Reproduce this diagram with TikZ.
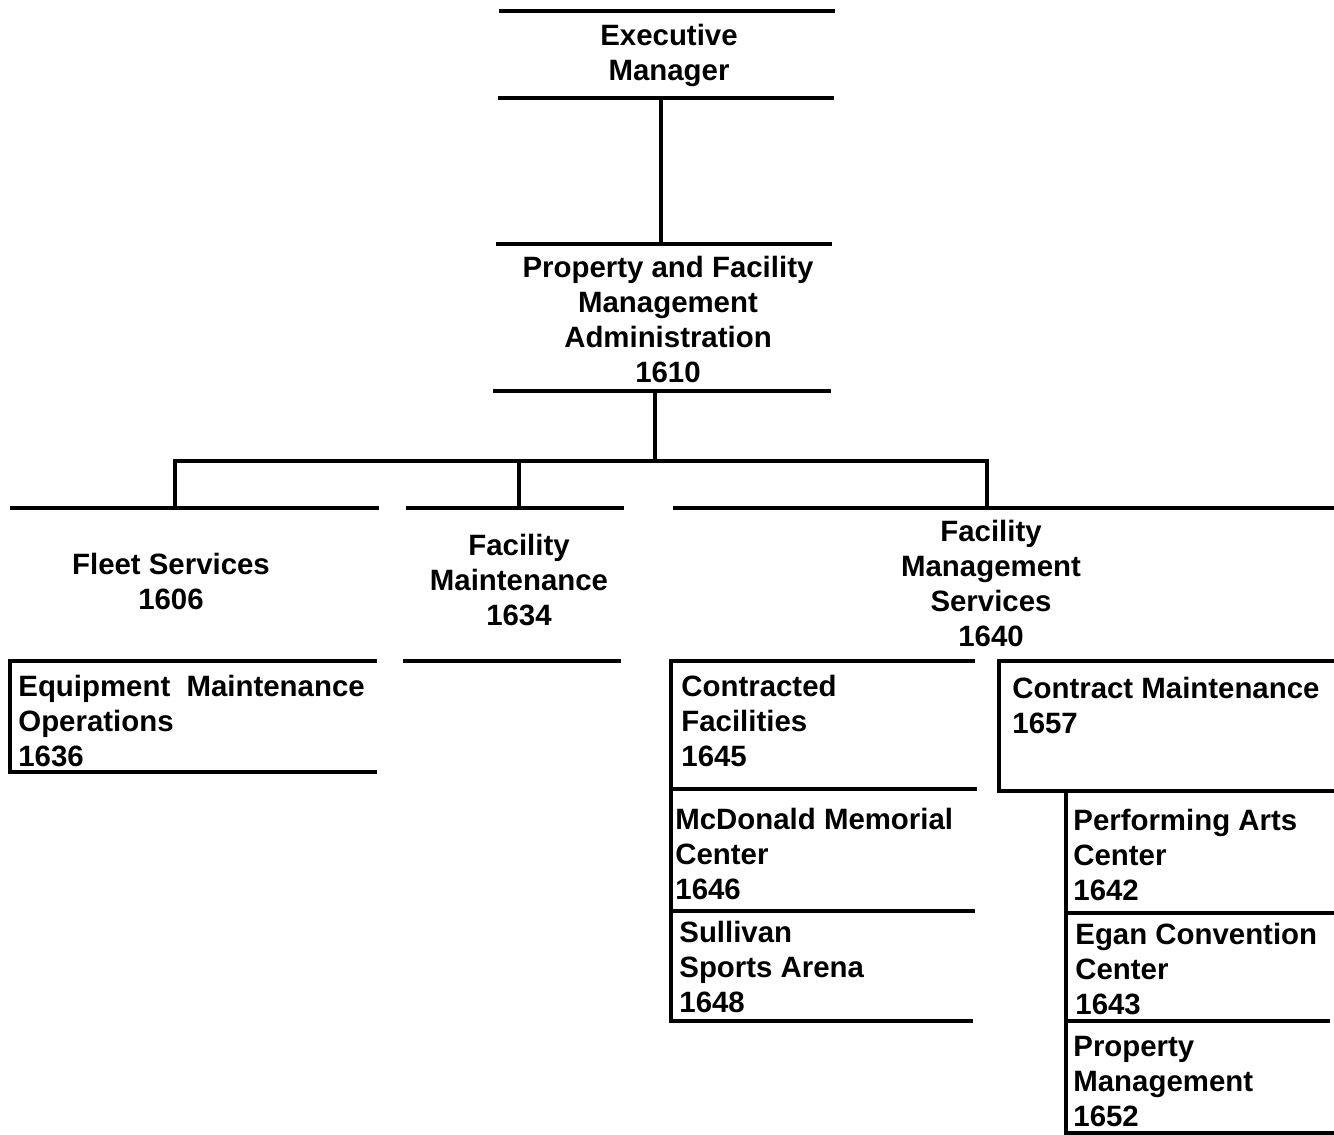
\documentclass[tikz,border=0pt]{standalone}
\usepackage{fontspec}
\setmainfont{Liberation Sans}
\newcommand\orgfont{\fontsize{14.7}{17.5}\selectfont\bfseries}
\begin{document}
\begin{tikzpicture}[x=0.5pt,y=-0.5pt,
  rule/.style={line width=2pt,line cap=butt},
  conn/.style={line width=2pt},
  ctr/.style={font=\orgfont,align=center,inner sep=0pt,anchor=north},
  lft/.style={font=\orgfont,align=left,inner sep=0pt,anchor=north west}]
\useasboundingbox (0,0) rectangle (1334,1135);

% --- text nodes
\node[ctr] (em) at (669,24) {Executive\\Manager};
\node[ctr] (pfma) at (668,256) {Property and Facility\\Management\\Administration\\1610};
\node[ctr] (fs) at (171,553) {Fleet Services\\1606};
\node[ctr] (fm) at (519,534) {Facility\\Maintenance\\1634};
\node[ctr] (fms) at (991,520) {Facility\\Management\\Services\\1640};
\node[lft] (emo) at (18,675) {Equipment~~Maintenance\\Operations\\1636};
\node[lft] (cf) at (681,675) {Contracted\\Facilities\\1645};
\node[lft] (mmc) at (675,808) {McDonald Memorial\\Center\\1646};
\node[lft] (ssa) at (679,921) {Sullivan\\Sports Arena\\1648};
\node[lft] (cm) at (1012,677) {Contract Maintenance\\1657};
\node[lft] (pac) at (1073,809) {Performing Arts\\Center\\1642};
\node[lft] (ecc) at (1075,923) {Egan Convention\\Center\\1643};
\node[lft] (pm) at (1073,1036) {Property\\Management\\1652};

% --- rules
\draw[rule] (499,11) -- (835,11);
\draw[rule] (498,98) -- (834,98);
\draw[rule] (496,244) -- (832,244);
\draw[rule] (493,391) -- (831,391);
\draw[rule] (10,508) -- (379,508);
\draw[rule] (406,508) -- (624,508);
\draw[rule] (673,508) -- (1334,508);
\draw[rule] (403,661) -- (621,661);
\draw[rule] (377,661) -- (10,661) -- (10,772) -- (377,772);
\draw[rule] (975,661) -- (671,661) -- (671,1021) -- (973,1021);
\draw[rule] (671,789) -- (977,789);
\draw[rule] (671,911) -- (975,911);
\draw[rule] (1334,661) -- (999,661) -- (999,791) -- (1334,791);
\draw[rule] (1066,791) -- (1066,1133) -- (1334,1133);
\draw[rule] (1066,913) -- (1334,913);
\draw[rule] (1066,1021) -- (1330,1021);

% --- connector end points
\coordinate (emB) at (661,98);
\coordinate (pfmaT) at (661,244);
\coordinate (pfmaB) at (655,391);
\coordinate (bus) at (655,461);
\coordinate (fsT) at (175,508);
\coordinate (fmT) at (519,508);
\coordinate (fmsT) at (987,508);

\draw[conn] (emB) -- (pfmaT);
\draw[conn] (pfmaB) -- (bus);
\draw[conn] (fsT) |- (bus) -| (fmsT);
\draw[conn] (fmT) -- (fmT |- bus);
\end{tikzpicture}
\end{document}
